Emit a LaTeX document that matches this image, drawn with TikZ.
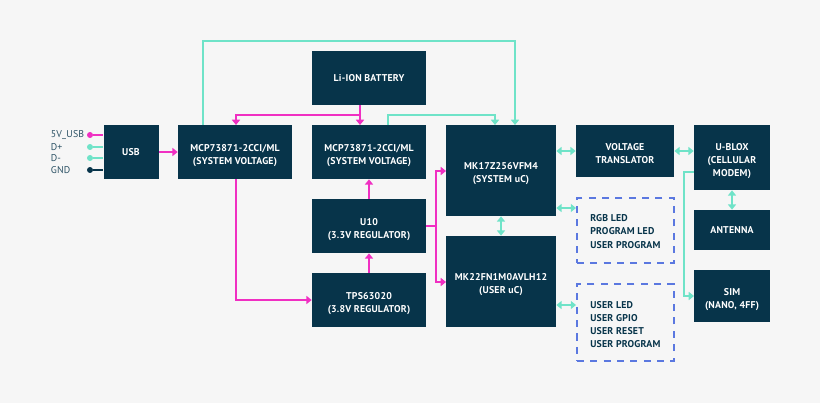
\documentclass[tikz,border=0pt]{standalone}
\usepackage{fontspec}
\setmainfont{PT Sans}[LetterSpace=2]
\usetikzlibrary{arrows.meta}

\definecolor{navy}{HTML}{07344A}
\definecolor{pagegrey}{HTML}{F6F6F6}
\definecolor{powerpink}{HTML}{F02FC2}
\definecolor{datateal}{HTML}{6FE3C8}
\definecolor{dashblue}{HTML}{5B78E0}

\tikzset{
    chip/.style 2 args={fill=navy, inner sep=0pt, align=center, text=white,
        font=\fontsize{5.6}{7.4}\selectfont\bfseries,
        minimum width=#1*0.02cm, minimum height=#2*0.02cm},
    lowtext/.style={text height=#1, text depth=0pt},
    lowtext/.default=13.8pt,
    header/.style 2 args={draw=dashblue, line width=1.1pt, dash pattern=on 4pt off 3.6pt, inner sep=0pt,
        minimum width=#1*0.02cm, minimum height=#2*0.02cm},
    pinlabel/.style={anchor=west, inner sep=0pt, text=navy!85, font=\fontsize{5.6}{7}\selectfont},
    ledlabel/.style={anchor=west, inner sep=0pt, text=navy, font=\fontsize{5.6}{7}\selectfont\bfseries},
    pin/.style={circle, inner sep=0pt, minimum size=3.4pt, fill=#1},
    power/.style={draw=powerpink, line width=1.2pt, -{Triangle[length=3pt,width=4.6pt]}},
    powerline/.style={draw=powerpink, line width=1.2pt},
    data/.style={draw=datateal, line width=1.2pt, -{Triangle[length=3pt,width=4.6pt]}},
    bus/.style={draw=datateal, line width=1.2pt, {Triangle[length=3pt,width=4.6pt]}-{Triangle[length=3pt,width=4.6pt]}}
}

\begin{document}
\begin{tikzpicture}[x=0.02cm, y=-0.02cm]
    % Page
    \fill[pagegrey] (0,0) rectangle (820,403);
    \useasboundingbox (0,0) rectangle (820,403);

    % Blocks
    \node[chip={55}{54}] (usb) at (131,152) {USB};
    \node[chip={114}{54}, lowtext] (charger) at (235,152) {MCP73871-2CCI/ML\\(SYSTEM VOLTAGE)};
    \node[chip={114}{54}] (battery) at (369,78) {Li-ION BATTERY};
    \node[chip={114}{54}, lowtext] (sysvolt) at (369,152) {MCP73871-2CCI/ML\\(SYSTEM VOLTAGE)};
    \node[chip={114}{54}, lowtext] (uten) at (369,226) {U10\\(3.3V REGULATOR)};
    \node[chip={114}{54}, lowtext] (tps) at (369,300) {TPS63020\\(3.8V REGULATOR)};
    \node[chip={110}{91}, lowtext] (mkseven) at (501,170.5) {MK17Z256VFM4\\(SYSTEM uC)};
    \node[chip={110}{91}, lowtext] (mktwo) at (501,281.5) {MK22FN1M0AVLH12\\(USER uC)};
    \node[chip={98}{52}, lowtext] (translator) at (625,151) {VOLTAGE\\TRANSLATOR};
    \node[chip={76}{65}, lowtext=21.2pt] (ublox) at (732,157.5) {U-BLOX\\(CELLULAR\\MODEM)};
    \node[chip={76}{40}] (antenna) at (732,230) {ANTENNA};
    \node[chip={76}{52}, lowtext] (sim) at (732,296) {SIM\\(NANO, 4FF)};

    % Dashed groups
    \node[header={97}{65}] (ledgroup) at (625.5,230.5) {};
    \node[header={97}{77}] (usergroup) at (625.5,322.5) {};
    \foreach \name/\y/\txt in {rgb/218/RGB LED, progled/231/PROGRAM LED, userprogA/245/USER PROGRAM,
                               userled/305/USER LED, gpio/318/USER GPIO, reset/331/USER RESET, userprogB/344/USER PROGRAM} {
        \node[ledlabel] (\name) at (590,\y) {\txt};
    }

    % USB pins
    \foreach \name/\y/\col/\txt in {vbus/135/powerpink/5V\_USB, dplus/147/datateal/D+, dminus/158/datateal/D-, gnd/170/navy/GND} {
        \node[pin=\col] (\name) at (90,\y) {};
        \node[pinlabel] at (50.5,\y) {\txt};
        \draw[draw=\col, line width=1.2pt] (\name) -- (\name -| usb.west);
    }

    % Free ends of the routed lines
    \coordinate (chgtop) at (203,125);
    \coordinate (chgin) at (236,125);
    \coordinate (battout) at (360,105);
    \coordinate (battin) at (360,125);
    \coordinate (chgout) at (236,179);
    \coordinate (systop) at (388,125);
    \coordinate (mkinA) at (495,125);
    \coordinate (mkinB) at (515,125);
    \coordinate (split) at (436,226);
    \coordinate (mkpowA) at (446,171);
    \coordinate (mkpowB) at (446,282);
    \coordinate (ubloxout) at (694,172);
    \coordinate (simin) at (694,296);

    % Power lines
    \draw[power] (usb) -- (charger);
    \draw[power] (battout) -- (battin);
    \draw[power] (battout |- 0,115) -- (chgin |- 0,115) -- (chgin);
    \draw[power] (chgout) |- (tps.west);
    \draw[power] (tps.north) -- (uten.south);
    \draw[power] (uten.north) -- (sysvolt.south);
    \draw[powerline] (uten.east) -- (split);
    \draw[power] (split) |- (mkpowA);
    \draw[power] (split) |- (mkpowB);

    % Data lines
    \draw[data] (chgtop) -- (chgtop |- 0,41) -- (mkinB |- 0,41) -- (mkinB);
    \draw[data] (systop) -- (systop |- 0,115) -- (mkinA |- 0,115) -- (mkinA);
    \draw[data] (ubloxout) -- (684,172) -- (684,296) -- (simin);

    % Two way links
    \draw[bus] (mkseven.east |- translator.west) -- (translator.west);
    \draw[bus] (translator.east) -- (ublox.west |- translator.east);
    \draw[bus] (mkseven.east |- 0,208) -- (ledgroup.west |- 0,208);
    \draw[bus] (mktwo.east |- 0,305) -- (usergroup.west |- 0,305);
    \draw[bus] (mkseven.south) -- (mktwo.north);
    \draw[bus] (ublox.south) -- (antenna.north);
\end{tikzpicture}
\end{document}
